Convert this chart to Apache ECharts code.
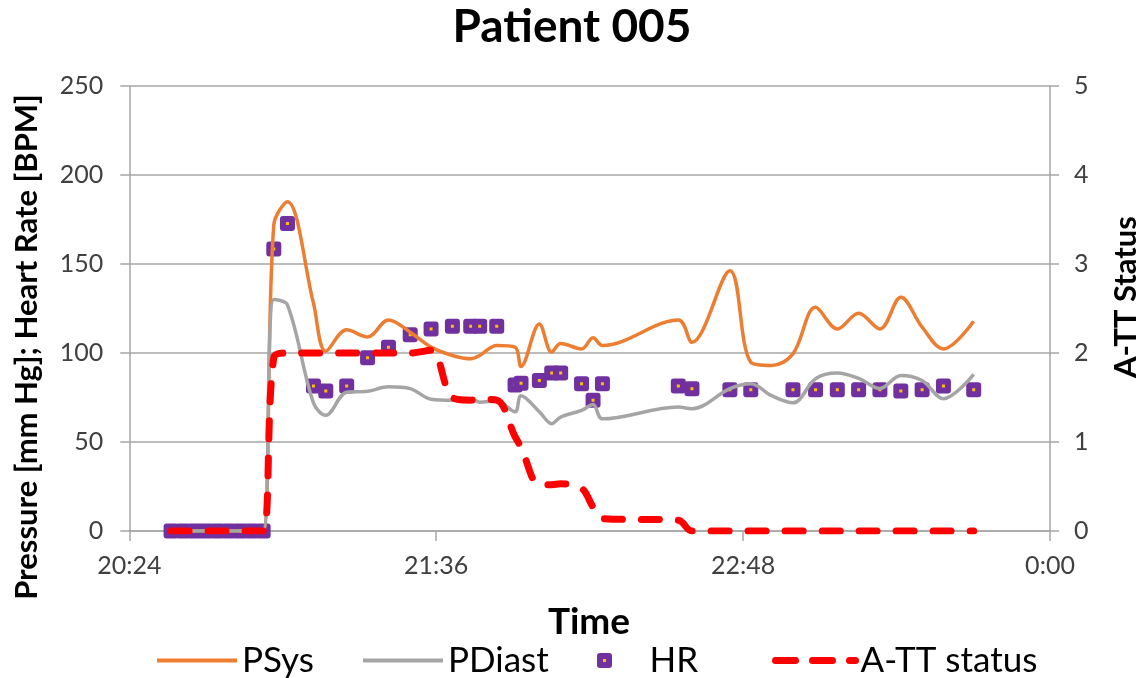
<!DOCTYPE html>
<html><head><meta charset="utf-8">
<script src="https://cdn.jsdelivr.net/npm/echarts@6/dist/echarts.min.js"></script>
<style>html,body{margin:0;padding:0;background:#fff}#c{width:1144px;height:678px}</style>
</head><body><div id="c"></div>
<script>
// time of each sample, minutes after midnight
const timeMin = [1233.8,1236.6,1239.3,1241.9,1244.6,1247.3,1250.0,1252.7,1255.4,
  1257.9,1261.1,1267.2,1270.1,1275.0,1279.9,1284.8,1289.9,1294.8,1299.8,
  1304.1,1306.2,1310.2,1314.5,1315.9,1320.2,1323.1,1325.2,1330.1,1332.8,
  1335.0,1352.8,1356.0,1364.9,1369.8,1374.7,1379.7,1385.0,1390.1,1395.1,
  1400.1,1405.0,1410.0,1415.0,1422.1];
const pSys = [0,0,0,0,0,0,0,0,0,
  172,185,128,101,113,109,118.6,111.7,103.3,98.6,
  96.7,98.6,104.2,103.3,92.4,116.3,100.5,105.3,102.3,108.5,
  104.2,118.6,106,146.2,94.9,93,99.5,125.7,113.5,122.3,
  113.5,131.3,114.5,102.3,117.8];
const pDiast = [0,0,0,0,0,0,0,0,0,
  130,127,72,65,78,78.5,81,80,74,73.4,
  74.5,72.4,73,67,76,67,60.3,64,67.8,71,
  63,69.6,68.7,80,82.7,76,72,85.5,88.7,85.7,
  80,87.4,84.6,74.3,88];
const hr = [0,0,0,0,0,0,0,0,0,
  158.4,172.7,81.4,78.6,81.4,97.3,103.3,110.2,113.5,115,
  115,115,115,82,83,84.6,88.7,88.7,82.7,73.4,
  82.7,81.4,79.9,79.4,79.4,null,79.4,79.4,79.4,79.4,
  79.4,78.6,79.4,81.4,79.4];
const attStatus = [0,0,0,0,0,0,0,0,0,
  1.95,2,2,2,2,2,2,2,2.03,1.5,
  1.47,1.48,1.47,1.06,0.94,0.52,0.52,0.53,0.48,0.27,
  0.14,0.12,0,0,0,0,0,0,0,0,
  0,0,0,0,0];
const xTickValues = [1224,1296,1368,1440];
const xTickLabels = ['20:24','21:36','22:48','0:00'];

const pairs = (ys) => timeMin.map((t,i) => [t, ys[i]]).filter(p => p[1] !== null);

const FONT = 'Lato, "Liberation Sans", sans-serif';
const GRID = '#a6a6a6';
const chart = echarts.init(document.getElementById('c'), null, {renderer:'canvas'});

const legendBase = {
  orient:'horizontal', top: 638, itemWidth: 80, itemHeight: 14,
  textStyle:{fontFamily:FONT, fontSize:35, color:'#000'}, selectedMode:false
};
const hiddenSym = {opacity:0, color:'transparent', borderWidth:0};

chart.setOption({
  animation:false,
  backgroundColor:'#fff',
  title:{text:'Patient 005', left:'center', top:4, padding:0,
    textStyle:{fontFamily:FONT, fontSize:46, fontWeight:'bold', color:'#000'}},
  grid:{left:129.3, right:94, top:86, bottom:147},
  legend:[
    Object.assign({}, legendBase, {left:150, data:[{name:'PSys', itemStyle:hiddenSym, lineStyle:{width:4, color:'#ed7d31'}}]}),
    Object.assign({}, legendBase, {left:356, data:[{name:'PDiast', itemStyle:hiddenSym, lineStyle:{width:4, color:'#a5a5a5'}}]}),
    Object.assign({}, legendBase, {left:592, itemHeight:9, data:[{name:'HR', icon:'path://M0 0H10V10H0Z',
      itemStyle:{color:'#ffc000', borderColor:'#7030a0', borderWidth:6, borderJoin:'round'}}]}),
    Object.assign({}, legendBase, {left:767, data:[{name:'A-TT status', itemStyle:hiddenSym,
      lineStyle:{width:7, color:'#ff0000', type:[20,17], cap:'round'}}]})
  ],
  xAxis:{type:'value', min:1224, max:1440, interval:72,
    axisLine:{show:true, onZero:false, lineStyle:{color:GRID, width:1.5}},
    axisTick:{show:true, length:10, lineStyle:{color:GRID, width:1.5}},
    splitLine:{show:false},
    axisLabel:{margin:22, fontFamily:FONT, fontSize:25, color:'#404040',
      formatter:(v)=>{const i = xTickValues.indexOf(Math.round(v)); return i>=0 ? xTickLabels[i] : '';}}
  },
  yAxis:[
    {type:'value', min:0, max:250, interval:50,
      axisLine:{show:true, lineStyle:{color:GRID, width:1.5}},
      axisTick:{show:true, length:9, lineStyle:{color:GRID, width:1.5}},
      splitLine:{show:true, lineStyle:{color:GRID, width:1.5}},
      axisLabel:{margin:26, fontFamily:FONT, fontSize:25, color:'#404040'}},
    {type:'value', min:0, max:5, interval:1, position:'right',
      axisLine:{show:true, lineStyle:{color:GRID, width:1.5}},
      axisTick:{show:true, length:9, lineStyle:{color:GRID, width:1.5}},
      splitLine:{show:false},
      axisLabel:{margin:24, fontFamily:FONT, fontSize:25, color:'#404040'}}
  ],
  graphic:[
    {type:'text', x:27, y:347, rotation:Math.PI/2,
      style:{text:'Pressure [mm Hg]; Heart Rate [BPM]', fontFamily:FONT, fontSize:31, fontWeight:'bold',
        fill:'#000', align:'center', verticalAlign:'middle'}},
    {type:'text', x:1126, y:297, rotation:Math.PI/2,
      style:{text:'A-TT Status', fontFamily:FONT, fontSize:31, fontWeight:'bold',
        fill:'#000', align:'center', verticalAlign:'middle'}},
    {type:'text', x:589, y:622,
      style:{text:'Time', fontFamily:FONT, fontSize:37, fontWeight:'bold',
        fill:'#000', align:'center', verticalAlign:'middle'}}
  ],
  series:[
    {name:'PSys', type:'line', yAxisIndex:0, data:pairs(pSys), smooth:0.35, symbol:'none',
      lineStyle:{color:'#ed7d31', width:3.5}, itemStyle:{color:'#ed7d31'}, silent:true},
    {name:'PDiast', type:'line', yAxisIndex:0, data:pairs(pDiast), smooth:0.35, symbol:'none',
      lineStyle:{color:'#a5a5a5', width:3.5}, itemStyle:{color:'#a5a5a5'}, silent:true},
    {name:'HR', type:'scatter', yAxisIndex:0, data:pairs(hr), symbol:'rect', symbolSize:9,
      itemStyle:{color:'#ffc000', borderColor:'#7030a0', borderWidth:6, borderJoin:'round', opacity:1}, silent:true},
    {name:'A-TT status', type:'line', yAxisIndex:1, data:pairs(attStatus), smooth:0.35, symbol:'none',
      lineStyle:{color:'#ff0000', width:7, type:[18,19], cap:'round'}, itemStyle:{color:'#ff0000'}, silent:true}
  ]
});
</script></body></html>
